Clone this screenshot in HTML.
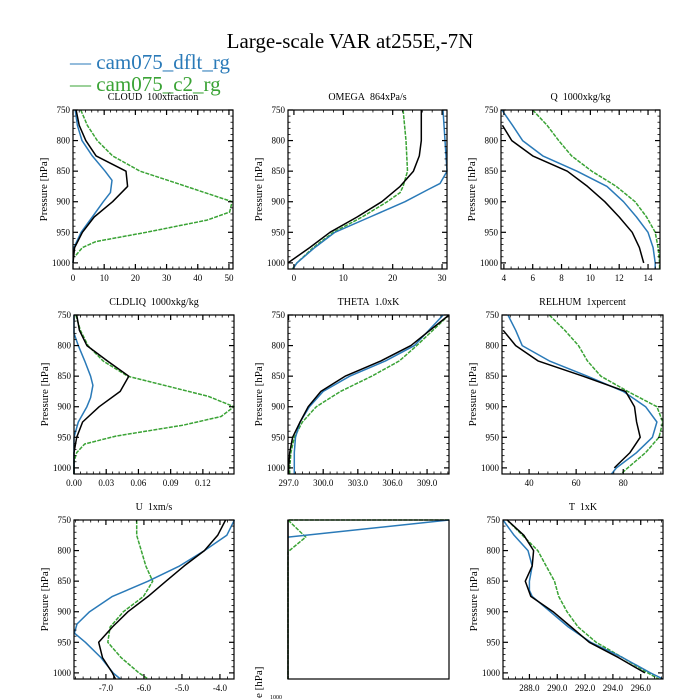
<!DOCTYPE html>
<html><head><meta charset="utf-8">
<style>
html,body{margin:0;padding:0;background:#fff;overflow:hidden;width:700px;height:700px;}
svg{display:block;font-family:"Liberation Serif",serif;}
</style></head>
<body>
<svg id="chart" width="700" height="700" viewBox="0 0 700 700" xmlns="http://www.w3.org/2000/svg">
<rect width="700" height="700" fill="#fff"/>
<text x="350" y="48" font-size="21" text-anchor="middle">Large-scale VAR at255E,-7N</text>
<g>
<text x="70" y="69" font-size="21" fill="#2a7ab8">— cam075_dflt_rg</text>
<text x="70" y="91" font-size="21" fill="#3aa335">— cam075_c2_rg</text>
</g>
<g id="panels"></g>
<text transform="translate(262,698) rotate(-90)" font-size="11" text-anchor="start">e [hPa]</text>
<text x="282" y="699" font-size="6" text-anchor="end">1000</text>
</svg>
<script>
// ---- data ----
const cloudP = [750,775,800,825,850,865,885,900,925,950,975,1000];
const cloudBlue = [0.7,1.4,2.9,6.2,10.3,12.5,12,9.7,6.2,2.6,0.3,0];
const cloudBlackP = [750,775,800,825,850,875,900,925,950,975,1000];
const cloudBlack = [1,2,4.1,7.4,17,17.5,12.7,6.8,3,0.5,0];
const cloudGreenP = [750,775,800,825,850,875,900,917,930,950,965,975,990];
const cloudGreen = [2.5,4.6,7.8,12.7,21.5,36.3,51,50.2,43,23.5,7.4,3,0.5];

const omegaBlackP = [750,800,825,850,875,900,925,950,975,1000];
const omegaBlack = [25.8,25.8,25.4,24.2,21.5,17.8,12.8,7.3,3.2,-1.2];
const omegaBlueP = [750,800,850,870,880,900,925,950,975,1000,1010];
const omegaBlue = [30.2,30.6,31,29.6,27.2,22.5,15.4,8.3,4.2,0.6,-0.2];
const omegaGreenP = [750,800,850,875,885,900,925,950,975,1000,1010];
const omegaGreen = [22.1,22.7,23,22.1,21.5,18.9,13.8,8,3.9,0.6,-0.3];

const qBlueP = [750,775,800,825,850,875,900,925,950,975,1000,1010];
const qBlue = [3.86,4.6,5.3,6.7,9.07,11.15,12.3,13.2,14,14.35,14.5,14.5];
const qBlackP = [775,800,825,850,875,900,925,950,975,1000];
const qBlack = [3.9,4.55,6,8.4,9.8,11,12,12.9,13.4,13.7];
const qGreenP = [750,775,800,825,850,875,900,925,950,975,1000,1010];
const qGreen = [6,7,7.8,8.7,10.1,11.8,13.1,13.9,14.5,14.7,14.8,14.8];

const liqBlueP = [750,780,800,825,850,865,885,900,925,950,1000,1010];
const liqBlue = [0,0,0.004,0.01,0.0155,0.0176,0.0155,0.012,0.004,0,0,0];
const liqBlackP = [750,775,800,825,850,875,900,925,950,975,1000,1010];
const liqBlack = [0.0025,0.005,0.012,0.031,0.051,0.043,0.0235,0.008,0.0025,0,0,0];
const liqGreenP = [750,775,800,825,850,883,900,916,930,948,961,975,990,1010];
const liqGreen = [0.0017,0.006,0.013,0.027,0.05,0.125,0.149,0.137,0.102,0.039,0.01,0.0025,0,0];

const thP = [750,800,825,850,875,900,925,950,975,1000,1010];
const thBlue = [310.4,307.9,305.4,302.3,300,298.8,298,297.6,297.5,297.5,297.5];
const thBlack = [310.9,307.6,305,301.9,299.8,298.7,298,297.35,297.1,297,297];
const thGreen = [310.9,308.1,306.6,304.2,301.5,299.4,298.2,297.5,297.2,297.1,297.1];

const rhBlueP = [750,775,800,825,850,875,900,925,950,975,1000,1010];
const rhBlue = [31,34.3,37.1,48.6,64.8,80,89.5,94.3,92.4,85.7,77.1,75];
const rhBlackP = [775,800,825,850,875,900,925,950,975,1000];
const rhBlack = [29,34.3,43.8,62.9,81,84.8,85.7,87.2,82.9,76.2];
const rhGreenP = [750,775,800,825,850,875,900,925,950,975,1000,1010];
const rhGreen = [48.6,55.2,61,64.8,70.5,81.9,94.3,96.8,95.2,89.5,81.9,79];

const uBlueP = [750,775,800,825,850,875,900,920,935,950,975,1000,1010];
const uBlue = [-3.62,-3.82,-4.41,-5.06,-5.89,-6.83,-7.43,-7.76,-7.83,-7.54,-7.13,-6.81,-6.62];
const uBlackP = [750,775,800,825,850,875,900,925,950,975,1000,1010];
const uBlack = [-3.85,-4.06,-4.41,-4.94,-5.42,-5.89,-6.42,-6.83,-7.19,-7.09,-6.83,-6.75];
const uGreen = [-6.19,-6.19,-6.07,-5.95,-5.77,-6.01,-6.54,-6.89,-6.95,-6.6,-6.13,-5.89];

const emBlueP = [750,778];
const emBlue = [1,0];
const emGreenP = [750,750,778,802,1010];
const emGreen = [1,0,0.11,0,0];
const emBlackP = [750,1010];
const emBlack = [0,0];

const tBlueP = [750,775,800,825,850,865,875,900,925,950,975,1000,1010];
const tBlue = [286.1,286.9,287.9,288.2,288,288,288.2,289.5,290.8,292.4,294.7,296.7,297.6];
const tBlackP = [750,775,800,825,850,875,900,925,950,975,1000];
const tBlack = [286.4,287.6,288.3,288.2,287.7,288.1,289.7,291,292.3,294.4,296.3];
const tGreenP = [750,800,825,850,875,900,925,950,975,1000,1010];
const tGreen = [286.4,288.6,289.2,289.8,290.1,290.7,291.5,292.8,294.7,296.5,297.3];

const cloudTicks = [0,10,20,30,40,50];
const omegaTicks = [0,10,20,30];
const qTicks = [4,6,8,10,12,14];
const liqTicks = ["0.00","0.03","0.06","0.09","0.12"];
const thTicks = ["297.0","300.0","303.0","306.0","309.0"];
const rhTicks = [40,60,80];
const uTicks = ["-7.0","-6.0","-5.0","-4.0"];
const tTicks = ["288.0","290.0","292.0","294.0","296.0"];
const pTicks = [750,800,850,900,950,1000];

// ---- layout ----
const BLUE="#2a7ab8", GREEN="#3aa335", BLACK="#000";
const panels = [
 {name:"cloud",title:"CLOUD\u00a0\u00a0100xfraction",x0:73,x1:233,y0:110,xmin:0,xmax:51.3,ticks:cloudTicks,minor:2,
  series:[[cloudGreenP,cloudGreen,GREEN],[cloudP,cloudBlue,BLUE],[cloudBlackP,cloudBlack,BLACK]]},
 {name:"omega",title:"OMEGA\u00a0\u00a0864xPa/s",x0:288,x1:447,y0:110,xmin:-1.2,xmax:31,ticks:omegaTicks,minor:2,
  series:[[omegaGreenP,omegaGreen,GREEN],[omegaBlueP,omegaBlue,BLUE],[omegaBlackP,omegaBlack,BLACK]]},
 {name:"q",title:"Q\u00a0\u00a01000xkg/kg",x0:501,x1:660,y0:110,xmin:3.8,xmax:14.83,ticks:qTicks,minor:0.5,
  series:[[qGreenP,qGreen,GREEN],[qBlueP,qBlue,BLUE],[qBlackP,qBlack,BLACK]]},
 {name:"cldliq",title:"CLDLIQ\u00a0\u00a01000xkg/kg",x0:74,x1:234,y0:315,xmin:0,xmax:0.149,ticks:liqTicks,minor:0.006,
  series:[[liqGreenP,liqGreen,GREEN],[liqBlueP,liqBlue,BLUE],[liqBlackP,liqBlack,BLACK]]},
 {name:"theta",title:"THETA\u00a0\u00a01.0xK",x0:288,x1:449,y0:315,xmin:296.95,xmax:310.9,ticks:thTicks,minor:0.6,
  series:[[thP,thGreen,GREEN],[thP,thBlue,BLUE],[thP,thBlack,BLACK]]},
 {name:"relhum",title:"RELHUM\u00a0\u00a01xpercent",x0:502,x1:663,y0:315,xmin:28.5,xmax:96.9,ticks:rhTicks,minor:4,
  series:[[rhGreenP,rhGreen,GREEN],[rhBlueP,rhBlue,BLUE],[rhBlackP,rhBlack,BLACK]]},
 {name:"u",title:"U\u00a0\u00a01xm/s",x0:74,x1:234,y0:520,xmin:-7.84,xmax:-3.63,ticks:uTicks,minor:0.2,
  series:[[uBlackP,uGreen,GREEN],[uBlueP,uBlue,BLUE],[uBlackP,uBlack,BLACK]]},
 {name:"empty",title:"",x0:288,x1:449,y0:520,xmin:0,xmax:1,ticks:[],minor:0,noY:true,
  series:[[emGreenP,emGreen,GREEN],[emBlueP,emBlue,BLUE],[emBlackP,emBlack,BLACK]]},
 {name:"t",title:"T\u00a0\u00a01xK",x0:503,x1:663,y0:520,xmin:286.1,xmax:297.6,ticks:tTicks,minor:0.5,
  series:[[tGreenP,tGreen,GREEN],[tBlueP,tBlue,BLUE],[tBlackP,tBlack,BLACK]]}
];
const NS="http://www.w3.org/2000/svg";
const root=document.getElementById("panels");
function mk(tag,attrs,parent){const e=document.createElementNS(NS,tag);for(const k in attrs)e.setAttribute(k,attrs[k]);parent.appendChild(e);return e;}
const PMIN=750,PMAX=1010,PH=159;
panels.forEach(p=>{
  const g=mk("g",{},root);
  
  
  const xs=v=>p.x0+(v-p.xmin)/(p.xmax-p.xmin)*(p.x1-p.x0);
  const ys=v=>p.y0+(v-PMIN)/(PMAX-PMIN)*PH;
  const yb=p.y0+PH;
  if(p.title){const t=mk("text",{x:(p.x0+p.x1)/2,y:p.y0-10,"font-size":10,"text-anchor":"middle"},g);t.textContent=p.title;
    
    }
  p.series.forEach((s,i)=>{
    const [P,V,c]=s;
    const pts=V.map((v,j)=>xs(v).toFixed(1)+","+ys(P[j]).toFixed(1)).join(" ");
    const pl=mk("polyline",{points:pts,fill:"none",stroke:c,"stroke-width":1.5,"stroke-linejoin":"round"},g);
    if(c===GREEN)pl.setAttribute("stroke-dasharray","4,1.2");
    
    
  });
  const fr=mk("rect",{x:p.x0,y:p.y0,width:p.x1-p.x0,height:PH,fill:"none",stroke:"#000","stroke-width":1.2},g);
  
  
  if(p.noY) return;
  for(let v=PMIN;v<=PMAX;v+=10){
    const y=ys(v), maj=(v%50===0), L=maj?5:2.5;
    mk("line",{x1:p.x0,x2:p.x0+L,y1:y,y2:y,stroke:"#000","stroke-width":maj?1.2:0.8},g);
    mk("line",{x1:p.x1,x2:p.x1-L,y1:y,y2:y,stroke:"#000","stroke-width":maj?1.2:0.8},g);
  }
  pTicks.forEach(v=>{const t=mk("text",{x:p.x0-3,y:ys(v)+3,"font-size":9,"text-anchor":"end"},g);t.textContent=v;
    
    });
  const yl=mk("text",{transform:`translate(${p.x0-26},${p.y0+PH/2}) rotate(-90)`,"font-size":11,"text-anchor":"middle"},g);
  yl.textContent="Pressure [hPa]";
  
  
  const start=Math.ceil(p.xmin/p.minor-1e-6);
  for(let k=start;k*p.minor<=p.xmax+1e-9;k++){
    const x=xs(k*p.minor);
    mk("line",{x1:x,x2:x,y1:yb,y2:yb-2.5,stroke:"#000","stroke-width":0.8},g);
    mk("line",{x1:x,x2:x,y1:p.y0,y2:p.y0+2.5,stroke:"#000","stroke-width":0.8},g);
  }
  p.ticks.forEach(tv=>{
    const x=xs(parseFloat(tv));
    mk("line",{x1:x,x2:x,y1:yb,y2:yb-5,stroke:"#000","stroke-width":1.2},g);
    mk("line",{x1:x,x2:x,y1:p.y0,y2:p.y0+5,stroke:"#000","stroke-width":1.2},g);
    const t=mk("text",{x:x,y:yb+12,"font-size":9,"text-anchor":"middle"},g);t.textContent=tv;
    
    
  });
});
</script>
</body></html>
